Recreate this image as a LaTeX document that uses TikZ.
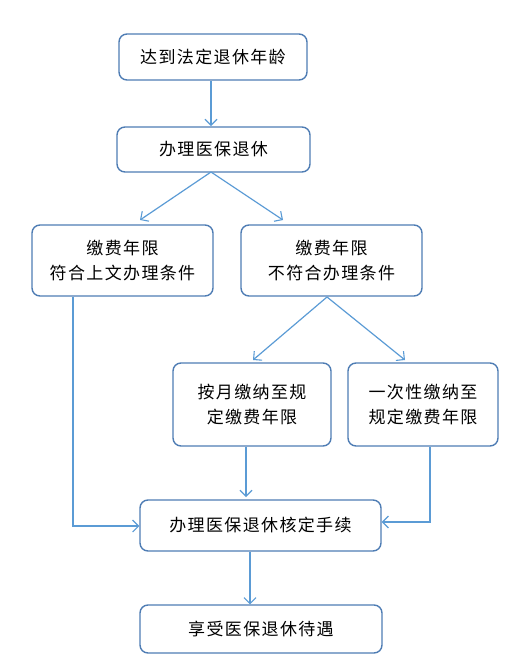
\documentclass[tikz,border=0pt]{standalone}
\usepackage{fontspec}
\newfontfamily\cjk[LetterSpace=8]{Noto Sans CJK SC}
\usetikzlibrary{arrows.meta}
\definecolor{boxc}{RGB}{79,125,180}
\definecolor{arrc}{RGB}{91,155,213}
\tikzset{
  x=1pt,y=-1pt,
  box/.style={draw=boxc,line width=1.4pt,rounded corners=8pt,fill=white,inner sep=0pt,
    align=center,font=\cjk\fontsize{17}{25}\selectfont,text=black},
  arr/.style={draw=arrc,line width=1.2pt,-{Straight Barb[length=6pt,width=12pt,line width=1.1pt]}}
}
\begin{document}
\begin{tikzpicture}
\useasboundingbox (0,0) rectangle (531,670);
\node[box,minimum width=188pt,minimum height=46pt] (b1) at (213,57) {达到法定退休年龄};
\node[box,minimum width=193pt,minimum height=45pt] (b2) at (213.5,149.5) {办理医保退休};
\node[box,minimum width=181pt,minimum height=71pt] (b3) at (122.5,260.5) {缴费年限\\符合上文办理条件};
\node[box,minimum width=181pt,minimum height=71pt] (b4) at (331.5,260.5) {缴费年限\\不符合办理条件};
\node[box,minimum width=158pt,minimum height=83pt] (b5) at (252,404.5) {按月缴纳至规\\定缴费年限};
\node[box,minimum width=150pt,minimum height=83pt] (b6) at (423,404.5) {一次性缴纳至\\规定缴费年限};
\node[box,minimum width=241pt,minimum height=51pt] (b7) at (260.5,525.5) {办理医保退休核定手续};
\node[box,minimum width=242pt,minimum height=48pt] (b8) at (261,629) {享受医保退休待遇};
\coordinate (c2) at (211,172);
\coordinate (c4) at (327,297);
\coordinate (lb) at (73,526);
\coordinate (rb) at (430,522);
\draw[arr] (b1.south -| 211,0) -- (211,126);
\draw[arr] (c2) -- (140,220);
\draw[arr] (c2) -- (283,220);
\draw[arr] (c4) -- (253,360);
\draw[arr] (c4) -- (405,360);
\draw[arr] (b5.south -| 246,0) -- (246,497);
\draw[arr] (b3.south -| lb) -- (lb) -- (lb -| b7.west);
\draw[arr] (b6.south -| rb) -- (rb) -- (rb -| b7.east);
\draw[arr] (b7.south -| 250,0) -- (b8.north -| 250,0);
\end{tikzpicture}
\end{document}
